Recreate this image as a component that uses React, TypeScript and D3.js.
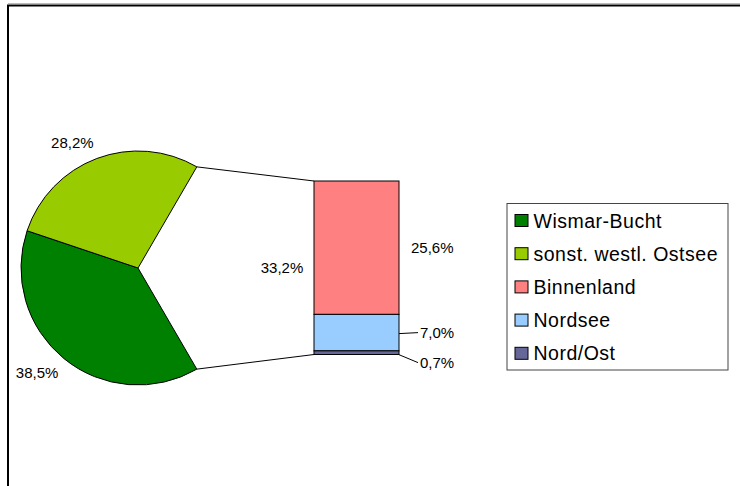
import React from 'react';
import * as d3 from 'd3';

// pie part (the "other" slice is broken out into the bar)
const pieCategories = ['Wismar-Bucht', 'sonst. westl. Ostsee'];
const pieValues = [38.5, 28.2];
const otherValue = 33.2;

// bar part, from top to bottom
const barCategories = ['Binnenland', 'Nordsee', 'Nord/Ost'];
const barValues = [25.6, 7.0, 0.7];

const legendCategories = ['Wismar-Bucht', 'sonst. westl. Ostsee', 'Binnenland', 'Nordsee', 'Nord/Ost'];
const colors = ['#008000', '#99CC00', '#FF8080', '#99CCFF', '#666699'];

const W = 740;
const H = 486;
const FONT = "Arial, 'Liberation Sans', sans-serif";

const locale = d3.formatLocale({ decimal: ',', thousands: '.', grouping: [3], currency: ['', '€'] });
const pct = (v: number) => locale.format('.1f')(v) + '%';

export default function App() {
    const cx = 138, cy = 268, r = 117;
    const total = otherValue + d3.sum(pieValues);
    const otherAngle = (otherValue / total) * Math.PI * 2;
    const start = Math.PI / 2 - otherAngle / 2;

    const pieData = [
        { name: 'other', value: otherValue, color: '#fff' },
        { name: pieCategories[0], value: pieValues[0], color: colors[0] },
        { name: pieCategories[1], value: pieValues[1], color: colors[1] },
    ];
    const arcs = d3.pie<any>().sort(null).value(d => d.value).startAngle(start).endAngle(start + Math.PI * 2)(pieData);
    const arc = d3.arc<any>().innerRadius(0).outerRadius(r);
    const labelArc = d3.arc<any>().innerRadius(126).outerRadius(126);
    const otherLabelArc = d3.arc<any>().innerRadius(130).outerRadius(158);

    // bar
    const barX = 314, barW = 85, barTop = 181, barBottom = 354.5;
    const barTotal = d3.sum(barValues);
    const y = d3.scaleLinear().domain([0, barTotal]).range([barTop, barBottom]);
    let acc = 0;
    const segs = barValues.map((v, i) => {
        const s = { name: barCategories[i], value: v, y0: y(acc), y1: y(acc + v), color: colors[i + 2] };
        acc += v;
        return s;
    });
    let prevLabelY = -Infinity;
    const segLabels = segs.map(s => {
        const mid = (s.y0 + s.y1) / 2;
        const ly = Math.max(mid, prevLabelY + 30);
        prevLabelY = ly;
        return { ...s, mid, ly, leader: s.value < 10 };
    });

    const edge = (a: number) => [cx + r * Math.sin(a), cy - r * Math.cos(a)];
    const [ux, uy] = edge(start);
    const [lx, ly] = edge(start + otherAngle);

    return (
        <svg width={W} height={H} style={{ position: 'absolute', left: 0, top: 0, background: '#fff' }} fontFamily={FONT}>
            {/* chart frame */}
            <line x1={8} x2={W} y1={3.5} y2={3.5} stroke="#bbb" strokeWidth={1} />
            <rect x={8} y={5.5} width={W + 10} height={H + 10} fill="none" stroke="#000" strokeWidth={2} />

            <g transform={`translate(${cx},${cy})`}>
                {arcs.map((d, i) => (
                    <path key={i} d={arc(d) as string} fill={d.data.color}
                        stroke={d.data.name === 'other' ? 'none' : '#000'} strokeWidth={1} />
                ))}
                {arcs.map((d, i) => {
                    if (d.data.name === 'other') {
                        const [tx, ty] = otherLabelArc.centroid(d);
                        return <text key={i} x={tx} y={ty} dy="0.35em" textAnchor="middle" fontSize={15}>{pct(d.data.value)}</text>;
                    }
                    const [tx, ty] = labelArc.centroid(d);
                    const left = tx < 0;
                    const upper = ty < 0;
                    return (
                        <text key={i} x={tx} y={ty} dy={upper ? '-0.15em' : '0.85em'}
                            textAnchor={left ? 'end' : 'start'} fontSize={15}>{pct(d.data.value)}</text>
                    );
                })}
            </g>

            {/* connector lines */}
            <line x1={ux} y1={uy} x2={barX} y2={barTop} stroke="#000" strokeWidth={1} />
            <line x1={lx} y1={ly} x2={barX} y2={barBottom} stroke="#000" strokeWidth={1} />

            {segs.map((s, i) => (
                <rect key={i} x={barX} y={s.y0} width={barW} height={s.y1 - s.y0} fill={s.color} stroke="#000" strokeWidth={1} />
            ))}
            {segLabels.map((s, i) => (
                <g key={i}>
                    {s.leader && <line x1={barX + barW} y1={s.mid + (s.ly > s.mid ? 2 : 1)} x2={barX + barW + 19} y2={s.ly} stroke="#000" strokeWidth={1} />}
                    <text x={barX + barW + (s.leader ? 21 : 12)} y={s.ly} dy="0.35em" fontSize={15}>{pct(s.value)}</text>
                </g>
            ))}

            {/* legend */}
            <rect x={507} y={203.5} width={221} height={166.5} fill="#fff" stroke="#444" strokeWidth={1} />
            {legendCategories.map((c, i) => (
                <g key={c} transform={`translate(515,${220.5 + i * 33.2})`}>
                    <rect x={0} y={-6} width={13} height={12} fill={colors[i]} stroke="#000" strokeWidth={1} />
                    <text x={18.5} y={0} dy="0.36em" fontSize={19.5} letterSpacing={0.5}>{c}</text>
                </g>
            ))}
        </svg>
    );
}
